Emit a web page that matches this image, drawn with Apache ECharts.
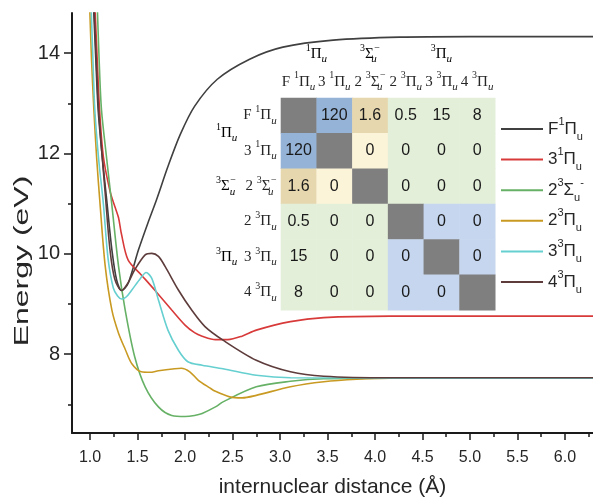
<!DOCTYPE html>
<html><head><meta charset="utf-8">
<script src="https://cdn.jsdelivr.net/npm/echarts@6/dist/echarts.min.js"></script>
<style>html,body{margin:0;padding:0;background:#fff}#c{width:593px;height:499px}</style>
</head><body><div id="c"></div>
<script>
// ---------- data ----------
const seriesNames = ['F1Pu', '31Pu', '23Su', '23Pu', '33Pu', '43Pu'];
const legendLabels = [
  '{n|F}{sup|1}{n|Π}{sub|u}',
  '{n|3}{sup|1}{n|Π}{sub|u}',
  '{n|2}{sup|3}{n|Σ}{sub|u}{sup|-}',
  '{n|2}{sup|3}{n|Π}{sub|u}',
  '{n|3}{sup|3}{n|Π}{sub|u}',
  '{n|4}{sup|3}{n|Π}{sub|u}'
];
const lineColors = ['#404040', '#d83a3a', '#66b166', '#c99a22', '#66cfd0', '#5e3c3c'];

const F1Pu = [[1.035,15.0],[1.06,13.9],[1.085,12.88],[1.13,11.9],[1.175,11.08],[1.23,10.08],[1.28,9.48],[1.333,9.27],[1.40,9.41],[1.51,10.08],[1.61,10.62],[1.70,11.08],[1.82,11.74],[1.95,12.38],[2.1,12.94],[2.34,13.48],[2.68,13.88],[3.03,14.12],[3.56,14.26],[4.26,14.32],[5.0,14.33],[6.3,14.33]];
const P31u = [[1.05,15.0],[1.075,13.9],[1.10,12.88],[1.14,11.94],[1.21,11.25],[1.26,10.95],[1.30,10.72],[1.33,10.4],[1.40,9.88],[1.54,9.58],[1.68,9.28],[1.86,8.88],[2.0,8.58],[2.1,8.43],[2.18,8.36],[2.32,8.29],[2.45,8.29],[2.6,8.36],[2.75,8.48],[3.11,8.65],[3.46,8.73],[4.16,8.76],[6.3,8.76]];
const S23u = [[1.075,15.0],[1.095,13.9],[1.12,12.88],[1.175,11.9],[1.228,11.0],[1.30,9.75],[1.37,8.88],[1.47,7.95],[1.58,7.35],[1.72,6.95],[1.86,6.78],[2.0,6.76],[2.1,6.78],[2.18,6.82],[2.32,6.95],[2.40,7.05],[2.75,7.35],[3.11,7.46],[3.46,7.51],[4.16,7.52],[6.3,7.52]];
const P23u = [[0.995,15.0],[1.015,13.9],[1.04,12.88],[1.07,11.9],[1.105,11.0],[1.16,9.75],[1.23,8.88],[1.30,8.42],[1.37,8.1],[1.44,7.81],[1.54,7.65],[1.63,7.64],[1.72,7.67],[1.89,7.71],[1.96,7.72],[2.05,7.65],[2.14,7.48],[2.26,7.33],[2.32,7.26],[2.47,7.15],[2.6,7.13],[2.75,7.18],[3.11,7.35],[3.46,7.45],[3.81,7.50],[4.16,7.52],[6.3,7.52]];
const P33u = [[1.01,15.0],[1.03,13.9],[1.05,12.88],[1.09,11.9],[1.14,11.0],[1.19,9.9],[1.245,9.32],[1.29,9.16],[1.333,9.1],[1.38,9.14],[1.44,9.28],[1.53,9.51],[1.59,9.63],[1.65,9.51],[1.72,9.08],[1.82,8.48],[1.93,8.08],[2.03,7.85],[2.18,7.78],[2.40,7.71],[2.75,7.58],[3.11,7.53],[6.3,7.52]];
const P43u = [[1.04,15.0],[1.065,13.9],[1.09,12.88],[1.165,11.08],[1.21,10.08],[1.26,9.5],[1.333,9.27],[1.40,9.42],[1.47,9.68],[1.58,9.98],[1.65,10.01],[1.72,9.95],[1.79,9.75],[1.93,9.28],[2.07,8.88],[2.21,8.55],[2.40,8.28],[2.75,7.88],[3.11,7.65],[3.46,7.56],[4.16,7.53],[6.3,7.53]];
const curves = [F1Pu, P31u, S23u, P23u, P33u, P43u];

const xMajorTicks = [1.0,1.5,2.0,2.5,3.0,3.5,4.0,4.5,5.0,5.5,6.0];
const xMinorTicks = [1.25,1.75,2.25,2.75,3.25,3.75,4.25,4.75,5.25,5.75,6.25];
const yMajorTicks = [8,10,12,14];
const yMinorTicks = [7,9,11,13];

// coupling matrix
const stateLabels = [
  '{t|F }{sp|1}{t|Π}{sb|u}',
  '{t|3 }{sp|1}{t|Π}{sb|u}',
  '{t|2 }{sp|3}{t|Σ}{sbz|u}{sp|−}',
  '{t|2 }{sp|3}{t|Π}{sb|u}',
  '{t|3 }{sp|3}{t|Π}{sb|u}',
  '{t|4 }{sp|3}{t|Π}{sb|u}'
];
const stateGroup = [0, 0, 1, 2, 2, 2];
const groupLabels = ['{sp|1}{t|Π}{sb|u}', '{sp|3}{t|Σ}{sbz|u}{sp|−}', '{sp|3}{t|Π}{sb|u}'];
const matrixValues = [
  [null, 120, 1.6, 0.5, 15, 8],
  [120, null, 0, 0, 0, 0],
  [1.6, 0, null, 0, 0, 0],
  [0.5, 0, 0, null, 0, 0],
  [15, 0, 0, 0, null, 0],
  [8, 0, 0, 0, 0, null]
];

// ---------- styling / layout ----------
const FONT = 'Liberation Sans, Arial, sans-serif';
const SERIF = 'Liberation Serif, Times New Roman, serif';
const AX = '#1a1a1a';
const TXT = '#262626';
const cellColors = {diag:'#7f7f7f', blue:'#95b3d7', tan:'#e6d7ae', cream:'#fcf4d9', green:'#e3efd9', lblue:'#c5d6ee'};
function cellColor(r, c) {
  if (r === c) return cellColors.diag;
  const gr = stateGroup[r], gc = stateGroup[c];
  if (gr === gc) return gr === 0 ? cellColors.blue : cellColors.lblue;
  if (gr === 2 || gc === 2) return cellColors.green;
  return (r === 0 || c === 0) ? cellColors.tan : cellColors.cream;
}
const M = {left: 280.7, top: 97.7, width: 214.3, height: 212.3};
const cw = M.width / 6, ch = M.height / 6;

const serifRich = {
  t: {fontSize: 15, fontFamily: SERIF, color: TXT, lineHeight: 22, verticalAlign: 'middle'},
  sp: {fontSize: 10, fontFamily: SERIF, color: TXT, verticalAlign: 'top'},
  sb: {fontSize: 11, fontFamily: SERIF, fontStyle: 'italic', color: TXT, verticalAlign: 'bottom'},
  sbz: {fontSize: 11, fontFamily: SERIF, fontStyle: 'italic', color: TXT, verticalAlign: 'bottom', width: 0.5, align: 'left'}
};

const cells = [];
for (let r = 0; r < 6; r++) for (let c = 0; c < 6; c++) cells.push([c, r]);

const groupSpans = [[0,1],[2,2],[3,5]];
const graphics = [{
  type: 'text', x: 22, y: 261, rotation: Math.PI / 2, scaleX: 1.6,
  style: {text: 'Energy (eV)', fontSize: 20, fontFamily: FONT, fill: TXT, align: 'center', verticalAlign: 'middle'}
}];
groupSpans.forEach((s, i) => {
  graphics.push({type: 'text', x: M.left + (s[0] + s[1] + 1) / 2 * cw, y: 54,
    style: {text: groupLabels[i], rich: serifRich, align: 'center', verticalAlign: 'middle'}});
  graphics.push({type: 'text', x: 216, y: M.top + (s[0] + s[1] + 1) / 2 * ch,
    style: {text: groupLabels[i], rich: serifRich, align: 'left', verticalAlign: 'middle'}});
});

const chart = echarts.init(document.getElementById('c'));
chart.setOption({
  backgroundColor: '#fff',
  animation: false,
  grid: [
    {left: 72, top: 13, width: 521, height: 420, outerBoundsMode: 'none', containLabel: false},
    {left: M.left, top: M.top, width: M.width, height: M.height, outerBoundsMode: 'none', containLabel: false}
  ],
  xAxis: [
    {type: 'value', gridIndex: 0, min: 0.81, max: 6.295, position: 'bottom',
     axisLine: {show: true, onZero: false, lineStyle: {color: AX, width: 2}},
     axisTick: {show: true, customValues: xMajorTicks, length: 7, lineStyle: {color: AX, width: 1.5}},
     axisLabel: {customValues: xMajorTicks, formatter: v => v.toFixed(1), fontSize: 16, fontFamily: FONT, color: TXT, margin: 17},
     splitLine: {show: false},
     name: 'internuclear distance (Å)', nameLocation: 'middle', nameGap: 44,
     nameTextStyle: {fontSize: 21, fontFamily: FONT, color: TXT}},
    {type: 'value', gridIndex: 0, min: 0.81, max: 6.295, position: 'bottom',
     axisLine: {show: false},
     axisTick: {show: true, customValues: xMinorTicks, length: 4, lineStyle: {color: AX, width: 1.5}},
     axisLabel: {show: false}, splitLine: {show: false}},
    {type: 'category', gridIndex: 1, position: 'top', data: stateLabels,
     axisLine: {show: false}, axisTick: {show: false},
     axisLabel: {interval: 0, formatter: v => v, rich: serifRich, margin: 5}}
  ],
  yAxis: [
    {type: 'value', gridIndex: 0, min: 6.43, max: 14.8, position: 'left',
     axisLine: {show: true, onZero: false, lineStyle: {color: AX, width: 2}},
     axisTick: {show: true, customValues: yMajorTicks, length: 8, lineStyle: {color: AX, width: 1.5}},
     axisLabel: {customValues: yMajorTicks, fontSize: 20, fontFamily: FONT, color: TXT, margin: 12},
     splitLine: {show: false}},
    {type: 'value', gridIndex: 0, min: 6.43, max: 14.8, position: 'left',
     axisLine: {show: false},
     axisTick: {show: true, customValues: yMinorTicks, length: 4, lineStyle: {color: AX, width: 1.5}},
     axisLabel: {show: false}, splitLine: {show: false}},
    {type: 'category', gridIndex: 1, inverse: true, data: stateLabels,
     axisLine: {show: false}, axisTick: {show: false},
     axisLabel: {interval: 0, formatter: v => v, rich: serifRich, margin: 4}}
  ],
  legend: {
    orient: 'vertical', left: 501, top: 116, padding: 0, itemWidth: 42, itemHeight: 2, itemGap: 4.6,
    icon: 'rect',
    data: seriesNames,
    formatter: name => legendLabels[seriesNames.indexOf(name)],
    textStyle: {
      fontSize: 17, fontFamily: FONT, color: TXT,
      rich: {
        n: {fontSize: 17, fontFamily: FONT, color: TXT, lineHeight: 26, verticalAlign: 'middle'},
        sup: {fontSize: 11, fontFamily: FONT, color: TXT, verticalAlign: 'top'},
        sub: {fontSize: 11, fontFamily: FONT, color: TXT, verticalAlign: 'bottom'}
      }
    }
  },
  graphic: graphics,
  series: seriesNames.map((n, i) => ({
    name: n, type: 'line', xAxisIndex: 0, yAxisIndex: 0, data: curves[i],
    symbol: 'none', smooth: 0.3, clip: true,
    color: lineColors[i], lineStyle: {width: 1.6, color: lineColors[i]}, z: 2
  })).concat([{
    type: 'custom', xAxisIndex: 2, yAxisIndex: 2, data: cells, z: 5,
    renderItem: function (params, api) {
      const c = api.value(0), r = api.value(1);
      const p = api.coord([c, r]);
      const s = api.size([1, 1]);
      const v = matrixValues[r][c];
      return {type: 'group', children: [
        {type: 'rect', shape: {x: p[0] - s[0] / 2, y: p[1] - s[1] / 2, width: s[0] + 0.5, height: s[1] + 0.5},
         style: {fill: cellColor(r, c)}},
        {type: 'text', x: p[0], y: p[1],
         style: {text: v === null ? '' : String(v), fontSize: 16, fontFamily: FONT, fill: '#1a1a1a', align: 'center', verticalAlign: 'middle'}}
      ]};
    }
  }])
});
</script></body></html>
